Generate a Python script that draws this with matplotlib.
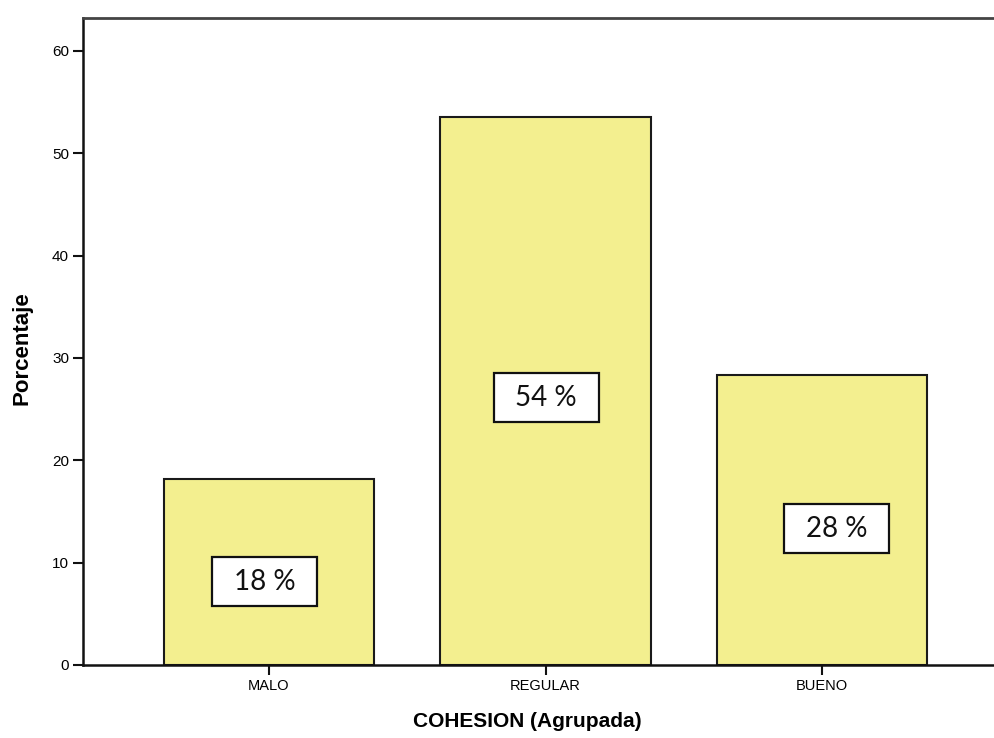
import matplotlib
matplotlib.use("Agg")
import matplotlib.pyplot as plt
from matplotlib.patches import Rectangle
from matplotlib.transforms import ScaledTranslation

categories = ["MALO", "REGULAR", "BUENO"]
values = [18.2, 53.5, 28.3]
labels = ["18 %", "54 %", "28 %"]
yticks = [0, 10, 20, 30, 40, 50, 60]

# layout of the value boxes (fraction of bar height, x offset in bar units)
label_frac = [0.448, 0.488, 0.471]
label_dx = [-0.015, 0.002, 0.052]
box_w_in, box_h_in = 1.05, 0.49

fig = plt.figure(figsize=(9.95, 7.38), dpi=100)
ax = fig.add_axes([83/995, 73/738, 912/995 + 0.002, (665-18)/738])

x = list(range(len(categories)))
ax.bar(x, values, width=0.76, color="#F3EF8F", edgecolor="#1a1a1a", linewidth=1.5, zorder=2)

for xi, v, lab, f, dx in zip(x, values, labels, label_frac, label_dx):
    cx, cy = xi + dx, v * f
    trans = fig.dpi_scale_trans + ScaledTranslation(cx, cy, ax.transData)
    ax.add_patch(Rectangle((-box_w_in/2, -box_h_in/2), box_w_in, box_h_in, transform=trans,
                           facecolor="white", edgecolor="#111111", linewidth=1.6, zorder=3))
    ax.text(cx, cy, lab, ha="center", va="center", fontsize=20, family="Lato",
            color="#111111", zorder=4)

ax.set_xlim(-0.672, 2.632)
ax.set_ylim(0, 63.2)
ax.set_xticks(x)
ax.set_xticklabels(categories, fontsize=10.5, family="Liberation Sans")
ax.set_yticks(yticks)
ax.set_yticklabels([str(t) for t in yticks], fontsize=11, family="Liberation Sans")
ax.tick_params(axis="both", direction="out", length=7, width=1.5, color="#111111", pad=3)

for s in ["left", "bottom"]:
    ax.spines[s].set_linewidth(1.8)
    ax.spines[s].set_color("#111111")
ax.spines["top"].set_linewidth(2.0)
ax.spines["top"].set_color("#444444")
ax.spines["right"].set_visible(False)

ax.set_ylabel("Porcentaje", fontsize=16, fontweight="bold", family="Liberation Sans")
ax.yaxis.set_label_coords(-0.055, 0.49)
ax.set_xlabel("COHESION (Agrupada)", fontsize=15, fontweight="bold", family="Liberation Sans")
ax.xaxis.set_label_coords(0.486, -0.072)

fig.savefig("out.png", dpi=100)
